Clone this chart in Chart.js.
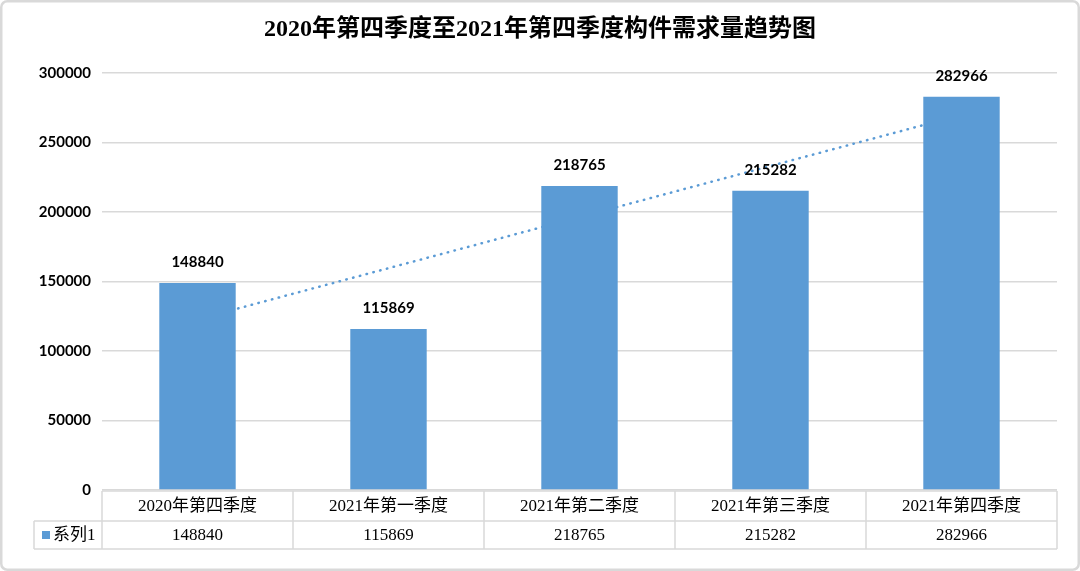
<!DOCTYPE html>
<html>
<head>
<meta charset="utf-8">
<script src="https://cdn.jsdelivr.net/npm/chart.js@4/dist/chart.umd.min.js"></script>
<style>
  html, body { margin: 0; padding: 0; background: #ffffff; }
  #wrap { width: 1080px; height: 571px; }
</style>
</head>
<body>
<div id="wrap"><canvas id="c" width="1080" height="571"></canvas></div>
<script>
const chartTitle = '2020年第四季度至2021年第四季度构件需求量趋势图';
const categories = ['2020年第四季度', '2021年第一季度', '2021年第二季度', '2021年第三季度', '2021年第四季度'];
const seriesName = '系列1';
const demand = [148840, 115869, 218765, 215282, 282966];
// linear trendline (Excel trend) end values, from first to last category
const trendline = [122811, null, null, null, 269877];
const yTicks = [0, 50000, 100000, 150000, 200000, 250000, 300000];

const BLUE = '#5b9bd5';
const GRID = '#d9d9d9';
const NUM_FONT = 'Lato, "Liberation Sans", sans-serif';
const SERIF_FONT = '"Liberation Serif", "Noto Sans CJK SC", serif';

const framePlugin = {
  id: 'frame',
  beforeDraw(chart) {
    const ctx = chart.ctx;
    ctx.save();
    ctx.fillStyle = '#ffffff';
    ctx.fillRect(0, 0, chart.width, chart.height);
    ctx.strokeStyle = '#d9d9d9';
    ctx.lineWidth = 2.5;
    ctx.beginPath();
    ctx.roundRect(1.25, 1.25, chart.width - 2.5, chart.height - 2.5, 6);
    ctx.stroke();
    // title
    ctx.fillStyle = '#000000';
    ctx.font = 'bold 24px ' + SERIF_FONT;
    ctx.textAlign = 'center';
    ctx.textBaseline = 'middle';
    ctx.fillText(chartTitle, 540, 30);
    ctx.restore();
  }
};

const labelPlugin = {
  id: 'barLabels',
  afterDatasetsDraw(chart) {
    const ctx = chart.ctx;
    const meta = chart.getDatasetMeta(1);
    ctx.save();
    ctx.fillStyle = '#000000';
    ctx.font = 'bold 15px ' + NUM_FONT;
    ctx.textAlign = 'center';
    ctx.textBaseline = 'middle';
    meta.data.forEach((bar, i) => {
      ctx.fillText(String(demand[i]), bar.x, bar.y - 21);
    });
    ctx.restore();
  }
};

const tablePlugin = {
  id: 'dataTable',
  afterDraw(chart) {
    const ctx = chart.ctx;
    const area = chart.chartArea;
    const xs = chart.scales.x;
    const left = area.left, right = area.right;
    const colW = (right - left) / categories.length;
    const top = area.bottom + 1;
    const mid = top + 30;
    const bot = mid + 28;
    const legendLeft = 34;
    ctx.save();
    ctx.strokeStyle = GRID;
    ctx.lineWidth = 1.5;
    ctx.beginPath();
    ctx.moveTo(left, top); ctx.lineTo(right, top);
    ctx.moveTo(legendLeft, mid); ctx.lineTo(right, mid);
    ctx.moveTo(legendLeft, bot); ctx.lineTo(right, bot);
    ctx.moveTo(legendLeft, mid); ctx.lineTo(legendLeft, bot);
    for (let i = 0; i <= categories.length; i++) {
      const x = left + colW * i;
      ctx.moveTo(x, top); ctx.lineTo(x, bot);
    }
    ctx.stroke();
    ctx.fillStyle = '#000000';
    ctx.font = '17px ' + SERIF_FONT;
    ctx.textAlign = 'center';
    ctx.textBaseline = 'middle';
    categories.forEach((c, i) => {
      const cx = xs.getPixelForValue(i);
      ctx.fillText(c, cx, (top + mid) / 2 + 1);
      ctx.fillText(String(demand[i]), cx, (mid + bot) / 2 + 1);
    });
    // legend cell
    ctx.fillStyle = BLUE;
    ctx.fillRect(42, (mid + bot) / 2 - 4, 8, 8);
    ctx.fillStyle = '#000000';
    ctx.textAlign = 'left';
    ctx.fillText(seriesName, 53, (mid + bot) / 2 + 1);
    ctx.restore();
  }
};

new Chart(document.getElementById('c'), {
  data: {
    labels: categories,
    datasets: [
      {
        type: 'line',
        label: 'trend',
        data: trendline,
        spanGaps: true,
        borderColor: BLUE,
        borderWidth: 2.5,
        borderDash: [0.5, 6.5],
        borderCapStyle: 'round',
        pointRadius: 0,
        fill: false,
        order: 2
      },
      {
        type: 'bar',
        label: seriesName,
        data: demand,
        backgroundColor: BLUE,
        borderWidth: 0,
        categoryPercentage: 1.0,
        barPercentage: 0.4,
        order: 1
      }
    ]
  },
  options: {
    responsive: false,
    animation: false,
    devicePixelRatio: 1,
    layout: { padding: { top: 73, right: 23, bottom: 81, left: 0 } },
    plugins: {
      legend: { display: false },
      title: { display: false },
      tooltip: { enabled: false }
    },
    scales: {
      x: {
        type: 'category',
        display: false
      },
      y: {
        min: 0,
        max: 300000,
        afterFit(scale) { scale.width = 102; },
        afterBuildTicks(scale) { scale.ticks = yTicks.map(v => ({ value: v })); },
        ticks: {
          padding: 11,
          color: '#000000',
          font: { family: NUM_FONT, size: 15, weight: 'bold' },
          callback: (v) => String(v)
        },
        grid: {
          color: GRID,
          lineWidth: 1.5,
          drawTicks: false
        },
        border: { display: false }
      }
    }
  },
  plugins: [framePlugin, labelPlugin, tablePlugin]
});
</script>
</body>
</html>
